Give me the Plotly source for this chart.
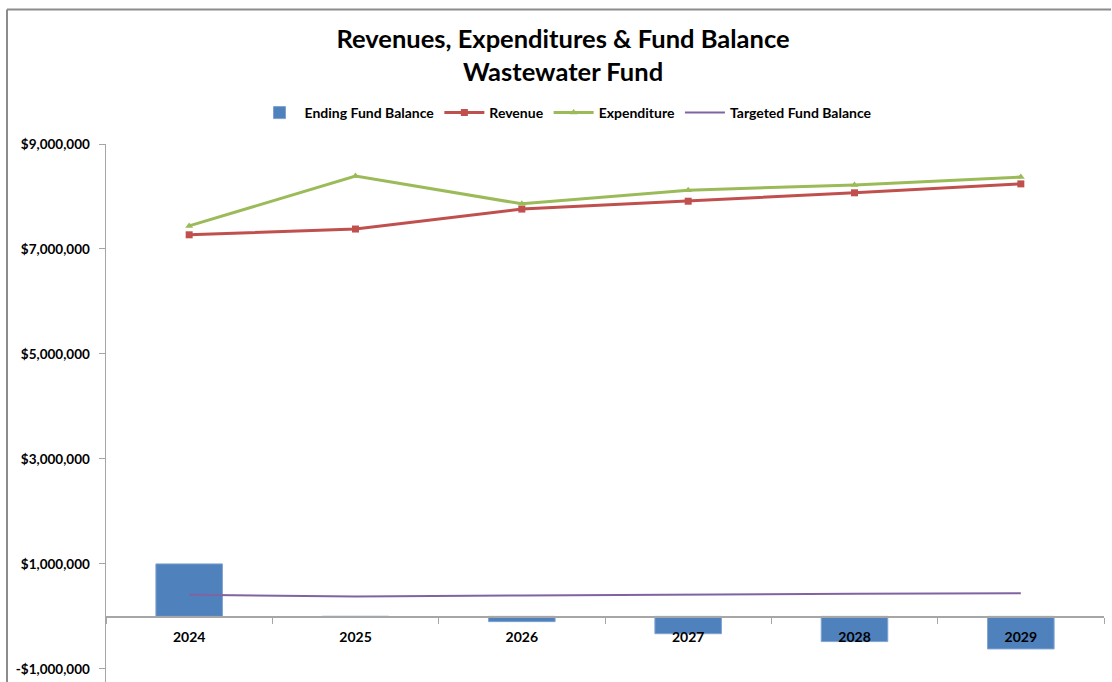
import plotly.graph_objects as go

# Fiscal years and fund figures (dollars)
years = ["2024", "2025", "2026", "2027", "2028", "2029"]
ending_fund_balance = [1000000, 0, -100000, -330000, -480000, -620000]
revenue = [7270000, 7380000, 7760000, 7910000, 8070000, 8240000]
expenditure = [7440000, 8390000, 7860000, 8120000, 8220000, 8370000]
targeted_fund_balance = [410000, 380000, 400000, 420000, 430000, 440000]

y_tick_values = [-1000000, 1000000, 3000000, 5000000, 7000000, 9000000]
y_tick_labels = ["-$1,000,000", "$1,000,000", "$3,000,000", "$5,000,000",
                 "$7,000,000", "$9,000,000"]

Y_MIN, Y_MAX = -1250000, 9000000
FONT = "Lato"
W, H = 1112, 682
M_L, M_R, M_T, M_B = 106, 8, 144, 0

fig = go.Figure()

fig.add_trace(go.Bar(
    x=years, y=ending_fund_balance, name="Ending Fund Balance",
    marker=dict(color="#4F81BD", line=dict(color="#7FA3D0", width=1)),
    width=0.4,
))
fig.add_trace(go.Scatter(
    x=years, y=revenue, name="Revenue", mode="lines+markers",
    line=dict(color="#C0504D", width=3),
    marker=dict(symbol="square", size=7, color="#C0504D"),
))
fig.add_trace(go.Scatter(
    x=years, y=expenditure, name="Expenditure", mode="lines+markers",
    line=dict(color="#9BBB59", width=3),
    marker=dict(symbol="triangle-up", size=7, color="#9BBB59"),
))
fig.add_trace(go.Scatter(
    x=years, y=targeted_fund_balance, name="Targeted Fund Balance",
    mode="lines", line=dict(color="#8064A2", width=2),
))

# horizontal axis sits on the zero line
zero_pos = (0 - Y_MIN) / (Y_MAX - Y_MIN)

# chart frame: left and top edges, drawn as two separate lines
plot_w = W - M_L - M_R
plot_h = H - M_T - M_B
fx0 = (7 - M_L) / plot_w
fx1 = (W - 1 - M_L) / plot_w
fy_top = (H - M_B - 9.5) / plot_h
frame_style = dict(color="#8C8C8C", width=2)

fig.update_layout(
    width=W, height=H,
    paper_bgcolor="white", plot_bgcolor="white",
    margin=dict(l=M_L, r=M_R, t=M_T, b=M_B, autoexpand=False),
    font=dict(family=FONT, color="black"),
    title=dict(
        text="<b>Revenues, Expenditures & Fund Balance<br>Wastewater Fund</b>",
        x=0.5063, xanchor="center", y=1 - 48 / H, yanchor="middle",
        font=dict(family=FONT, size=25.5, color="black"),
    ),
    legend=dict(
        orientation="h", xref="container", x=566 / W, xanchor="center",
        y=(H - 113) / H, yanchor="middle", yref="container",
        font=dict(family=FONT, size=14, color="black", weight="bold"),
        traceorder="normal", itemwidth=40,
    ),
    showlegend=True,
    dragmode=False,
    shapes=[
        dict(type="line", xref="paper", yref="paper",
             x0=fx0, x1=fx0, y0=0, y1=fy_top, line=frame_style, layer="below"),
        dict(type="line", xref="paper", yref="paper",
             x0=fx0, x1=fx1, y0=fy_top, y1=fy_top, line=frame_style, layer="below"),
    ],
)

fig.update_xaxes(
    type="category", anchor="free", position=zero_pos,
    showline=True, linecolor="#A6A6A6", linewidth=1.5,
    ticks="outside", tickson="boundaries", ticklen=6, tickcolor="#A6A6A6",
    showgrid=False, zeroline=False,
    tickfont=dict(family=FONT, size=14, color="black", weight="bold"),
    ticklabelstandoff=7,
)
fig.update_yaxes(
    range=[Y_MIN, Y_MAX], tickvals=y_tick_values, ticktext=y_tick_labels,
    showline=True, linecolor="#A6A6A6", linewidth=1.5,
    ticks="outside", ticklen=6, tickcolor="#A6A6A6",
    showgrid=False, zeroline=False,
    tickfont=dict(family=FONT, size=13.5, color="black", weight="bold"),
    ticklabelstandoff=6,
)

fig.write_html("out.html", config={"staticPlot": True})
